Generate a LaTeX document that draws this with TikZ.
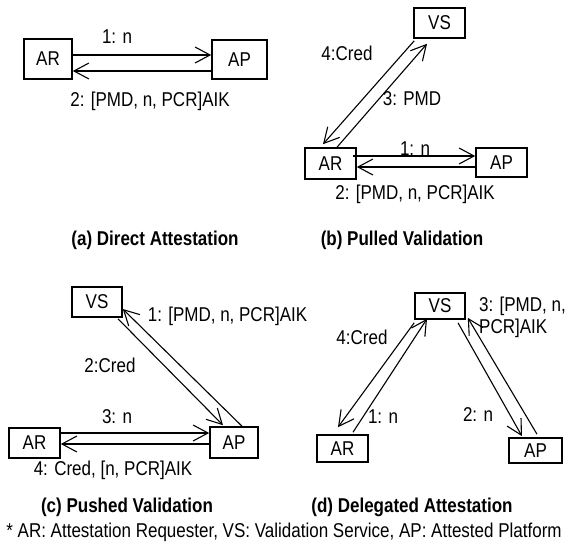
\documentclass[tikz,border=0pt]{standalone}
\usepackage{fontspec}
\setmainfont{Liberation Sans}[FakeStretch=0.85]
\usetikzlibrary{arrows.meta,calc}
\tikzset{
    box/.style={
        draw,
        rectangle,
        line width=1.6pt,
        inner sep=0pt,
        minimum width=51pt,
        minimum height=30pt,
        font=\fontsize{20}{22}\selectfont
    },
    msg/.style={
        -{Straight Barb[length=15pt,width=16pt]},
        line width=1.1pt
    },
    lbl/.style={
        font=\fontsize{20}{22}\selectfont,
        inner sep=0pt
    },
    caption/.style={
        font=\fontsize{20}{22}\selectfont\bfseries,
        inner sep=0pt
    }
}

\begin{document}
\begin{tikzpicture}[x=1pt,y=-1pt]
    \useasboundingbox (0,0) rectangle (567,544);

    % (a) Direct Attestation
    \node[box, minimum width=48pt, minimum height=40pt] (arA) at (48,59) {AR};
    \node[box, minimum width=55pt, minimum height=39pt] (apA) at (239.5,59.5) {AP};
    \draw[msg] ($(arA.east)+(0,-4)$) -- ($(apA.west)+(0,-4.5)$);
    \draw[msg] ($(apA.west)+(0,11.5)$) -- ($(arA.east)+(0,12)$);
    \node[lbl] (nA) at (117,37) {1: n};
    \node[lbl] (pA) at (150,101) {2: [PMD, n, PCR]AIK};
    \node[caption] at (155,240) {(a) Direct Attestation};

    % (b) Pulled Validation
    \node[box] (vsB) at (439.5,23) {VS};
    \node[box, minimum height=31pt] (arB) at (330.5,163.5) {AR};
    \node[box, minimum height=29pt] (apB) at (501.5,162.5) {AP};
    \draw[msg] ($(arB.east)+(-4,-7.5)$) -- ($(apB.west)+(0,-6.5)$);
    \draw[msg] ($(apB.west)+(0,4.5)$) -- ($(arB.east)+(0,3.5)$);
    \draw[msg] ($(vsB.south west)+(1,2)$) -- ($(arB.north)+(-7.5,-3)$);
    \draw[msg] ($(arB.north)+(6.5,0)$) -- ($(vsB.south)+(-12.5,5)$);
    \node[lbl] at (415,149) {1: n};
    \node[lbl] at (415,194) {2: [PMD, n, PCR]AIK};
    \node[lbl] at (347,53) {4:Cred};
    \node[lbl] at (412,99) {3: PMD};
    \node[caption] at (402,240) {(b) Pulled Validation};

    % (c) Pushed Validation
    \node[box, minimum width=50pt] (vsC) at (97,302) {VS};
    \node[box] (arC) at (34.5,443) {AR};
    \node[box, minimum width=48pt, minimum height=31pt] (apC) at (234,442.5) {AP};
    \draw[msg] ($(arC.east)+(0,-10)$) -- ($(apC.west)+(0,-9.5)$);
    \draw[msg] ($(apC.west)+(0,1.5)$) -- ($(arC.east)+(0,1)$);
    \draw[msg] ($(apC.north)+(8,0)$) -- ($(vsC.east)+(0,7)$);
    \draw[msg] ($(vsC.south)+(21,1)$) -- ($(apC.north)+(-11,-1)$);
    \node[lbl] at (227.5,316) {1: [PMD, n, PCR]AIK};
    \node[lbl] at (110,365) {2:Cred};
    \node[lbl] at (117,417) {3: n};
    \node[lbl] at (113,470) {4: Cred, [n, PCR]AIK};
    \node[caption] at (127,507) {(c) Pushed Validation};

    % (d) Delegated Attestation
    \node[box, minimum width=50pt, minimum height=26pt] (vsD) at (440,306) {VS};
    \node[box, minimum height=27pt] (arD) at (342.5,448.5) {AR};
    \node[box, minimum width=53pt, minimum height=25pt] (apD) at (535.5,450.5) {AP};
    \draw[msg] ($(vsD.south west)+(0,3)$) -- ($(arD.north)+(-4.5,-7)$);
    \draw[msg] ($(arD.north)+(10.5,-2)$) -- ($(vsD.south)+(-13,-1)$);
    \draw[msg] ($(vsD.south)+(18,3)$) -- ($(apD.north)+(-13.5,-1)$);
    \draw[msg] ($(apD.north)+(1.5,-3)$) -- ($(vsD.south east)+(2,-2)$);
    \node[lbl] at (362,337) {4:Cred};
    \node[lbl] at (383,417) {1: n};
    \node[lbl] at (478,415) {2: n};
    \node[lbl, align=left, anchor=north west] at (479,297) {3: [PMD, n,\\PCR]AIK};
    \node[caption] at (412,507) {(d) Delegated Attestation};

    % key
    \node[lbl] at (284,532) {* AR: Attestation Requester, VS: Validation Service, AP: Attested Platform};
\end{tikzpicture}
\end{document}
